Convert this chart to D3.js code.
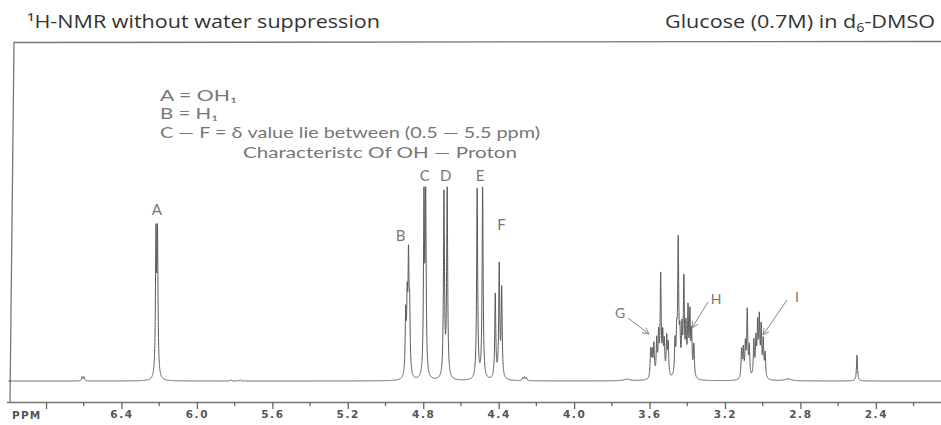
<!DOCTYPE html>
<html>
<head>
<meta charset="utf-8">
<title>glucose nmr</title>
<style>
  body { margin: 0; background: #fff; }
  svg { display: block; }
</style>
</head>
<body>
<main></main>
<script src="https://cdn.jsdelivr.net/npm/d3@7"></script>
<script>
// spectral lines: chemical shift (ppm) and intensity (0-100)
var shifts = [6.609, 6.599,
  6.217, 6.209,
  5.82, 5.77,
  4.893, 4.885, 4.878, 4.872,
  4.796, 4.787,
  4.690, 4.673,
  4.514, 4.485,
  4.418, 4.397, 4.384,
  4.272, 4.262, 4.252,
  3.594, 3.586, 3.577, 3.562, 3.552, 3.541, 3.530, 3.522, 3.509, 3.501,
  3.465, 3.456, 3.448, 3.439, 3.428, 3.418, 3.407, 3.396, 3.386, 3.377, 3.365,
  3.112, 3.103, 3.092, 3.082, 3.071, 3.047, 3.036, 3.027, 3.018, 3.008, 2.997, 2.987,
  2.500];
var heights = [2, 2,
  69, 69,
  0.6, 0.6,
  30, 34, 54, 30,
  87, 87,
  92, 94,
  95, 96,
  42, 56, 44,
  1.5, 1.8, 1.5,
  14, 12, 16, 18, 20, 50, 19, 16, 19, 16,
  17, 18, 66, 18, 22, 47, 23, 32, 30, 21, 16,
  14, 14, 16, 33, 15, 18, 18, 25, 28, 24, 18, 12,
  13];
// broad humps
var bumpShifts = [3.72, 2.866];
var bumpHeights = [0.8, 1];

var tickValues = [6.8, 6.4, 6.0, 5.6, 5.2, 4.8, 4.4, 4.0, 3.6, 3.2, 2.8, 2.4, 2.0];
var minorTicks = [6.6, 6.2, 5.8, 5.4, 5.0, 4.6, 4.2, 3.8, 3.4, 3.0, 2.6, 2.2];
var tickLabels = ["", "6.4", "6.0", "5.6", "5.2", "4.8", "4.4", "4.0", "3.6", "3.2", "2.8", "2.4", ""];

var peakNames = ["A", "B", "C", "D", "E", "F"];
var peakAt = [6.213, 4.92, 4.792, 4.681, 4.499, 4.385];
var notes = ["A = OH\u2081", "B = H\u2081", "C \u2014 F = \u03b4 value lie between (0.5 \u2014 5.5 ppm)", "Characteristc Of OH \u2014 Proton"];

var width = 941, height = 425;
var svg = d3.select("main").append("svg")
  .attr("width", width)
  .attr("height", height);

var x = d3.scaleLinear().domain([7.0, 2.0]).range([8.3, 951.3]);
var y = d3.scaleLinear().domain([0, 100]).range([381, 181]);

// frame
svg.append("path")
  .attr("d", "M941,41.5 L14,42.5 L10,402")
  .attr("fill", "none")
  .attr("stroke", "#777")
  .attr("stroke-width", 1.3);

// titles
svg.append("text")
  .attr("x", 27).attr("y", 28)
  .attr("font-family", "Open Sans")
  .attr("font-size", 18)
  .attr("fill", "#333")
  .attr("textLength", 353)
  .attr("lengthAdjust", "spacingAndGlyphs")
  .text("\u00b9H-NMR without water suppression");
var t2 = svg.append("text")
  .attr("x", 665).attr("y", 28)
  .attr("font-family", "Open Sans")
  .attr("font-size", 18)
  .attr("fill", "#333")
  .attr("textLength", 270)
  .attr("lengthAdjust", "spacingAndGlyphs");
t2.append("tspan").text("Glucose (0.7M) in d");
t2.append("tspan").attr("font-size", 12).attr("dy", 4).text("6");
t2.append("tspan").attr("dy", -4).text("-DMSO");

// spectrum
var w = 0.0032, wb = 0.02;
var pts = [];
for (var p = 7.0; p >= 2.0; p -= 0.0004) {
  var s = 0;
  for (var i = 0; i < shifts.length; i++) {
    var d = p - shifts[i];
    s += heights[i] * w * w / (d * d + w * w);
  }
  for (var j = 0; j < bumpShifts.length; j++) {
    var e = p - bumpShifts[j];
    s += bumpHeights[j] * wb * wb / (e * e + wb * wb);
  }
  pts.push([p, s]);
}
svg.append("path")
  .datum(pts)
  .attr("fill", "none")
  .attr("stroke", "#5a5a5a")
  .attr("stroke-width", 1)
  .attr("d", d3.line().x(function (d) { return x(d[0]); }).y(function (d) { return y(d[1]); }));

// axis
var axisG = svg.append("g").attr("transform", "translate(0,402)");
axisG.call(d3.axisBottom(x).tickValues(tickValues).tickSize(7).tickSizeOuter(0)
  .tickFormat(function (d, i) { return tickLabels[i]; }));
axisG.select(".domain").attr("stroke", "#777").attr("stroke-width", 1.3).attr("d", "M7,0.5H941");
axisG.selectAll(".tick line").attr("stroke", "#666").attr("stroke-width", 1.3);
axisG.selectAll(".tick text")
  .attr("font-family", "DejaVu Sans")
  .attr("font-weight", "bold")
  .attr("font-size", 10.5)
  .attr("letter-spacing", 1.6)
  .attr("fill", "#555")
  .attr("y", 9);
axisG.selectAll(".minor").data(minorTicks).enter().append("line")
  .attr("x1", function (d) { return x(d); }).attr("x2", function (d) { return x(d); })
  .attr("y1", 0).attr("y2", 4)
  .attr("stroke", "#666").attr("stroke-width", 1.3);
svg.append("text")
  .attr("x", 12).attr("y", 419)
  .attr("font-family", "DejaVu Sans").attr("font-weight", "bold")
  .attr("font-size", 10.5).attr("fill", "#555")
  .attr("letter-spacing", 1.2)
  .text("PPM");

// handwritten notes
var noteX = [160, 160, 160, 243];
var noteY = [101, 119, 138, 158];
var noteW = [77, 58, 380, 274];
svg.selectAll(".note").data(notes).enter().append("text")
  .attr("class", "note")
  .attr("x", function (d, i) { return noteX[i]; })
  .attr("y", function (d, i) { return noteY[i]; })
  .attr("font-family", "Lato")
  .attr("font-size", 15)
  .attr("fill", "#777")
  .attr("textLength", function (d, i) { return noteW[i]; })
  .attr("lengthAdjust", "spacingAndGlyphs")
  .text(function (d) { return d; });

var labelY = [215, 241, 181, 181, 181, 230];
svg.selectAll(".plab").data(peakNames).enter().append("text")
  .attr("x", function (d, i) { return x(peakAt[i]); })
  .attr("y", function (d, i) { return labelY[i]; })
  .attr("text-anchor", "middle")
  .attr("font-family", "Lato")
  .attr("font-size", 15).attr("fill", "#777")
  .text(function (d) { return d; });

// arrows for G, H, I
var arrowNames = ["G", "H", "I"];
var arrowText = [[620, 318], [716, 304], [797, 302]];
var arrowFrom = [[628, 318], [708, 302], [787, 300]];
var arrowTo = [[649, 334], [692, 328], [763, 335]];
arrowNames.forEach(function (n, i) {
  svg.append("text")
    .attr("x", arrowText[i][0]).attr("y", arrowText[i][1])
    .attr("text-anchor", "middle")
    .attr("font-family", "Lato")
    .attr("font-size", 14).attr("fill", "#777")
    .text(n);
  var a = arrowFrom[i], b = arrowTo[i];
  var ang = Math.atan2(b[1] - a[1], b[0] - a[0]);
  var hl = 7;
  svg.append("path")
    .attr("d", "M" + a + "L" + b +
      "M" + [b[0] - hl * Math.cos(ang - 0.45), b[1] - hl * Math.sin(ang - 0.45)] + "L" + b +
      "L" + [b[0] - hl * Math.cos(ang + 0.45), b[1] - hl * Math.sin(ang + 0.45)])
    .attr("fill", "none").attr("stroke", "#888").attr("stroke-width", 1);
});
</script>
</body>
</html>
